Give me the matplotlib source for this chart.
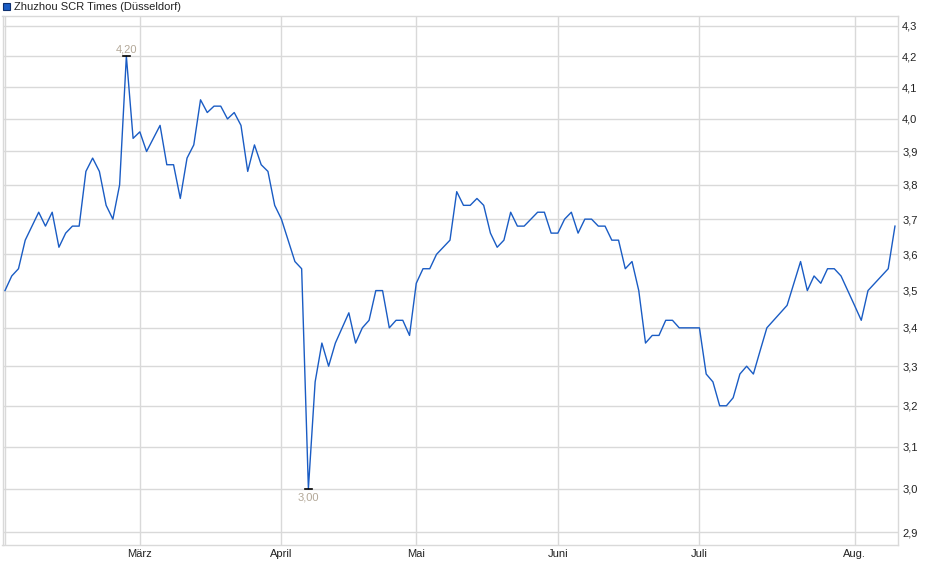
import numpy as np
import matplotlib
matplotlib.use("Agg")
import matplotlib.pyplot as plt
from matplotlib.ticker import FixedLocator, FuncFormatter, NullLocator
from matplotlib.patches import Rectangle

plt.rcParams['font.family'] = ['Liberation Sans', 'DejaVu Sans']

TITLE = "Zhuzhou SCR Times (Düsseldorf)"

# daily closing prices (trading-day index)
prices = [
    3.50, 3.54, 3.56, 3.64, 3.68, 3.72, 3.68, 3.72, 3.62, 3.66,
    3.68, 3.68, 3.84, 3.88, 3.84, 3.74, 3.70, 3.80, 4.20, 3.94,
    3.96, 3.90, 3.94, 3.98, 3.86, 3.86, 3.76, 3.88, 3.92, 4.06,
    4.02, 4.04, 4.04, 4.00, 4.02, 3.98, 3.84, 3.92, 3.86, 3.84,
    3.74, 3.70, 3.64, 3.58, 3.56, 3.00, 3.26, 3.36, 3.30, 3.36,
    3.40, 3.44, 3.36, 3.40, 3.42, 3.50, 3.50, 3.40, 3.42, 3.42,
    3.38, 3.52, 3.56, 3.56, 3.60, 3.62, 3.64, 3.78, 3.74, 3.74,
    3.76, 3.74, 3.66, 3.62, 3.64, 3.72, 3.68, 3.68, 3.70, 3.72,
    3.72, 3.66, 3.66, 3.70, 3.72, 3.66, 3.70, 3.70, 3.68, 3.68,
    3.64, 3.64, 3.56, 3.58, 3.50, 3.36, 3.38, 3.38, 3.42, 3.42,
    3.40, 3.40, 3.40, 3.40, 3.28, 3.26, 3.20, 3.20, 3.22, 3.28,
    3.30, 3.28, 3.34, 3.40, 3.42, 3.44, 3.46, 3.52, 3.58, 3.50,
    3.54, 3.52, 3.56, 3.56, 3.54, 3.50, 3.46, 3.42, 3.50, 3.52,
    3.54, 3.56, 3.68,
]

# first trading day of each month (index into prices)
month_idx = [0, 20, 41, 61, 82, 103, 126]
month_labels = ["", "März", "April", "Mai", "Juni", "Juli", "Aug."]

y_ticks = [2.9, 3.0, 3.1, 3.2, 3.3, 3.4, 3.5, 3.6, 3.7, 3.8, 3.9, 4.0, 4.1, 4.2, 4.3]

LINE = "#1a5cc4"
GRID = "#d9d9d9"
TXT = "#222222"
ANN = "#b3a898"

x = np.arange(len(prices))
y = np.array(prices)

fig = plt.figure(figsize=(9.4, 5.79), dpi=100)
ax = fig.add_axes([2.5 / 940, 34 / 579, 895.5 / 940, 529 / 579])

ax.plot(x, y, color=LINE, lw=1.0, zorder=3)

ax.set_yscale("log")
ax.set_ylim(2.8715, 4.3335)
ax.set_xlim(-0.37, 132.45)

ax.yaxis.set_major_locator(FixedLocator(y_ticks))
ax.yaxis.set_minor_locator(NullLocator())
ax.yaxis.set_major_formatter(FuncFormatter(lambda v, p: f"{v:.1f}".replace(".", ",")))
ax.yaxis.tick_right()

ax.xaxis.set_major_locator(FixedLocator(month_idx))
ax.xaxis.set_minor_locator(NullLocator())
ax.set_xticklabels(month_labels)

ax.tick_params(axis="both", length=0, labelsize=8, colors=TXT)
ax.tick_params(axis="y", pad=3)
ax.tick_params(axis="x", pad=3)

ax.grid(True, color=GRID, lw=1.0, zorder=0)
for s in ax.spines.values():
    s.set_color(GRID)
    s.set_linewidth(1.0)

# high / low markers
imax = int(np.argmax(y))
imin = int(np.argmin(y))
ax.plot([imax - 0.55, imax + 0.55], [y[imax], y[imax]], color="black", lw=1.2, zorder=4)
ax.plot([imin - 0.55, imin + 0.55], [y[imin], y[imin]], color="black", lw=1.2, zorder=4)
ax.annotate(f"{y[imax]:.2f}".replace(".", ","), (imax, y[imax]), xytext=(0, 1.5),
            textcoords="offset points", ha="center", va="bottom", fontsize=8, color=ANN)
ax.annotate(f"{y[imin]:.2f}".replace(".", ","), (imin, y[imin]), xytext=(0, -3),
            textcoords="offset points", ha="center", va="top", fontsize=8, color=ANN)

# legend entry at the top
fig.patches.append(Rectangle((3 / 940, 1 - 10 / 579), 7 / 940, 7 / 579,
                             transform=fig.transFigure, facecolor=LINE,
                             edgecolor="#0d2f6e", lw=0.8))
fig.text(14 / 940, 1 - 6.5 / 579, TITLE, fontsize=8, color=TXT, va="center", ha="left")

fig.savefig("out.png", dpi=100)
